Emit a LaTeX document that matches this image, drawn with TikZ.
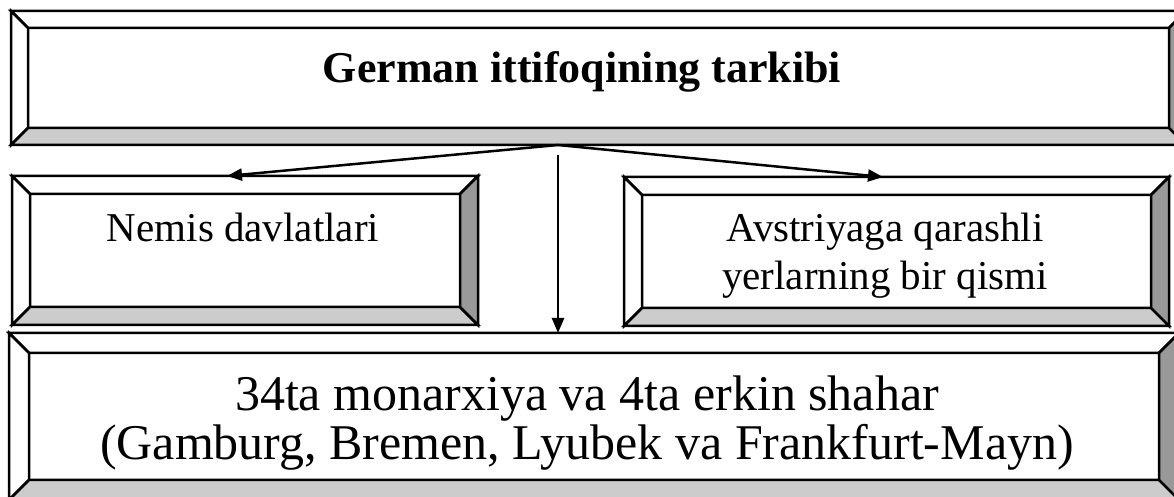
\documentclass[tikz,border=0pt]{standalone}
\usepackage{fontspec}
\setmainfont{Liberation Serif}
\usetikzlibrary{arrows.meta}
\usetikzlibrary{calc}

\definecolor{bevlight}{HTML}{CCCCCC}
\definecolor{bevdark}{HTML}{999999}

\tikzset{
    boxframe/.style={rectangle, inner sep=0pt, outer sep=0pt},
    boxtext/.style={inner sep=0pt, align=center, font=\fontsize{41}{48}\selectfont},
    link/.style={-{Triangle[length=15pt,width=12pt]}, line width=2.5pt},
}

% bevelled frame round a named node: #1 node, #2 depth of the bevel
\newcommand{\bevelframe}[2]{
    \coordinate (#1-a) at ($(#1.north west)+(#2,-#2)$);
    \coordinate (#1-b) at ($(#1.north east)+(-#2,-#2)$);
    \coordinate (#1-c) at ($(#1.south east)+(-#2,#2)$);
    \coordinate (#1-d) at ($(#1.south west)+(#2,#2)$);
    \filldraw[fill=white] (#1.north west) -- (#1.north east) -- (#1-b) -- (#1-a) -- cycle;
    \filldraw[fill=white] (#1.north west) -- (#1-a) -- (#1-d) -- (#1.south west) -- cycle;
    \filldraw[fill=bevlight] (#1.south west) -- (#1-d) -- (#1-c) -- (#1.south east) -- cycle;
    \filldraw[fill=bevdark] (#1.north east) -- (#1.south east) -- (#1-c) -- (#1-b) -- cycle;
    \draw (#1-a) rectangle (#1-c);
}

\begin{document}
\begin{tikzpicture}[x=1pt, y=1pt, line width=2.5pt, line join=miter]
    \useasboundingbox (0,0) rectangle (1174,497);
    \clip (0,0) rectangle (1174,497);

    % the four frames
    \node[boxframe, minimum width=1175pt, minimum height=134pt] (union) at (598.5,419) {};
    \node[boxframe, minimum width=466pt, minimum height=149pt] (german) at (245,246.5) {};
    \node[boxframe, minimum width=545pt, minimum height=149pt] (austria) at (896.5,245.5) {};
    \node[boxframe, minimum width=1170pt, minimum height=167pt] (states) at (594,80.5) {};

    \bevelframe{union}{17}
    \bevelframe{german}{18}
    \bevelframe{austria}{18}
    \bevelframe{states}{20}

    % texts (base is the last line of a node)
    \node[boxtext, anchor=base, font=\fontsize{44}{48}\selectfont\bfseries] (uniontxt) at (582,414) {German ittifoqining tarkibi};
    \node[boxtext, anchor=base] (germantxt) at (243,255) {Nemis davlatlari};
    \node[boxtext, anchor=base] (austriatxt) at (885,207) {Avstriyaga qarashli\\yerlarning bir qismi};
    \node[boxtext, anchor=base, font=\fontsize{50}{49}\selectfont] (statestxt) at (587,37) {34ta monarxiya va 4ta erkin shahar\\(Gamburg, Bremen, Lyubek va Frankfurt-Mayn)};

    % arrows
    \coordinate (fork) at ([xshift=-40.5pt]union.south);
    \draw[link] (fork) -- ([xshift=-18pt]german.north);
    \draw[link] (fork) -- ([xshift=-13.5pt]austria.north);
    \draw[link] ([yshift=-10pt]fork) -- (fork |- states.north);
\end{tikzpicture}
\end{document}
